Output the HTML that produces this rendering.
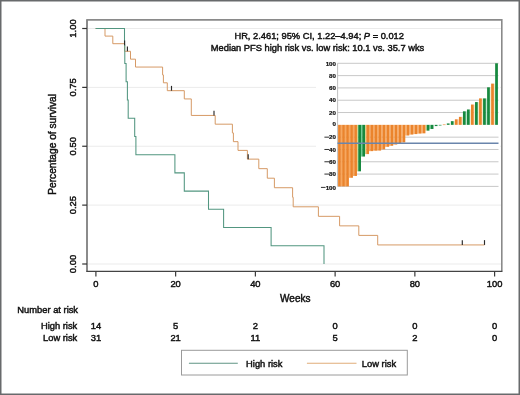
<!DOCTYPE html><html><head><meta charset="utf-8"><style>html,body{margin:0;padding:0;background:#fff;}svg{display:block;filter:blur(0.3px);}text{font-family:"Liberation Sans", sans-serif;} .t{fill:#111;stroke:#111;stroke-width:0.45px;} .ti{fill:#111;stroke:#111;stroke-width:0.2px;}</style></head><body>
<svg width="520" height="395" viewBox="0 0 520 395">
<rect x="0" y="0" width="520" height="395" fill="#fff"/>
<rect x="0.75" y="0.75" width="518.5" height="393.5" fill="none" stroke="#686a6c" stroke-width="1.5"/>
<line x1="88" y1="28.50" x2="501" y2="28.50" stroke="#ebebeb" stroke-width="1"/>
<line x1="88" y1="87.38" x2="501" y2="87.38" stroke="#ebebeb" stroke-width="1"/>
<line x1="88" y1="146.25" x2="501" y2="146.25" stroke="#ebebeb" stroke-width="1"/>
<line x1="88" y1="205.12" x2="501" y2="205.12" stroke="#ebebeb" stroke-width="1"/>
<line x1="88" y1="264.00" x2="501" y2="264.00" stroke="#ebebeb" stroke-width="1"/>
<rect x="316" y="56" width="184" height="138" fill="#fff"/>
<path d="M95.60 28.50 L105.00 28.50 L105.00 36.10 L112.80 36.10 L112.80 43.69 L124.55 43.69 L124.55 51.29 L130.50 51.29 L130.50 59.17 L135.50 59.17 L135.50 67.05 L162.60 67.05 L162.60 74.92 L163.40 74.92 L163.40 82.80 L167.30 82.80 L167.30 90.68 L184.30 90.68 L184.30 98.93 L191.30 98.93 L191.30 115.44 L215.20 115.44 L215.20 124.18 L232.40 124.18 L232.40 132.92 L233.40 132.92 L233.40 141.66 L238.00 141.66 L238.00 150.40 L247.40 150.40 L247.40 159.13 L258.80 159.13 L258.80 168.67 L267.30 168.67 L267.30 178.20 L274.40 178.20 L274.40 187.73 L292.60 187.73 L292.60 197.27 L293.20 197.27 L293.20 206.80 L318.40 206.80 L318.40 216.33 L339.60 216.33 L339.60 225.87 L358.80 225.87 L358.80 235.40 L377.70 235.40 L377.70 244.93 L484.50 244.93" fill="none" stroke="#d4955e" stroke-width="0.95"/>
<path d="M95.60 28.50 L124.50 28.50 L124.50 45.32 L124.80 45.32 L124.80 63.54 L126.10 63.54 L126.10 81.77 L127.40 81.77 L127.40 99.99 L128.20 99.99 L128.20 118.21 L134.70 118.21 L134.70 136.44 L135.90 136.44 L135.90 154.66 L174.90 154.66 L174.90 172.88 L184.30 172.88 L184.30 191.11 L208.50 191.11 L208.50 209.33 L223.60 209.33 L223.60 227.55 L271.10 227.55 L271.10 245.78 L324.00 245.78 L324.00 264.00" fill="none" stroke="#529680" stroke-width="1.05"/>
<line x1="124.60" y1="45.32" x2="124.60" y2="40.52" stroke="#2a2a2a" stroke-width="1.15"/>
<line x1="127.40" y1="51.29" x2="127.40" y2="46.49" stroke="#2a2a2a" stroke-width="1.15"/>
<line x1="171.50" y1="90.68" x2="171.50" y2="85.88" stroke="#2a2a2a" stroke-width="1.15"/>
<line x1="214.00" y1="115.44" x2="214.00" y2="110.64" stroke="#2a2a2a" stroke-width="1.15"/>
<line x1="248.20" y1="159.13" x2="248.20" y2="154.33" stroke="#2a2a2a" stroke-width="1.15"/>
<line x1="462.30" y1="244.93" x2="462.30" y2="240.13" stroke="#2a2a2a" stroke-width="1.15"/>
<line x1="484.50" y1="244.93" x2="484.50" y2="240.13" stroke="#2a2a2a" stroke-width="1.15"/>
<path d="M87.0 271.4 V19.9 H501.8 V271.4" fill="none" stroke="#8a8a8a" stroke-width="1.6"/>
<path d="M87.0 19.9 V271.4" fill="none" stroke="#828282" stroke-width="1.4"/>
<path d="M86.3 271.4 H502.4" fill="none" stroke="#444" stroke-width="1.4"/>
<line x1="82.2" y1="28.50" x2="87" y2="28.50" stroke="#333" stroke-width="1.2"/>
<text transform="translate(76.3 28.50) rotate(-90)" text-anchor="middle" font-size="9.4" class="t">1.00</text>
<line x1="82.2" y1="87.38" x2="87" y2="87.38" stroke="#333" stroke-width="1.2"/>
<text transform="translate(76.3 87.38) rotate(-90)" text-anchor="middle" font-size="9.4" class="t">0.75</text>
<line x1="82.2" y1="146.25" x2="87" y2="146.25" stroke="#333" stroke-width="1.2"/>
<text transform="translate(76.3 146.25) rotate(-90)" text-anchor="middle" font-size="9.4" class="t">0.50</text>
<line x1="82.2" y1="205.12" x2="87" y2="205.12" stroke="#333" stroke-width="1.2"/>
<text transform="translate(76.3 205.12) rotate(-90)" text-anchor="middle" font-size="9.4" class="t">0.25</text>
<line x1="82.2" y1="264.00" x2="87" y2="264.00" stroke="#333" stroke-width="1.2"/>
<text transform="translate(76.3 264.00) rotate(-90)" text-anchor="middle" font-size="9.4" class="t">0.00</text>
<line x1="95.90" y1="271.5" x2="95.90" y2="276.6" stroke="#3a3a3a" stroke-width="1.2"/>
<text x="95.90" y="287.3" text-anchor="middle" font-size="9.4" class="t">0</text>
<line x1="175.64" y1="271.5" x2="175.64" y2="276.6" stroke="#3a3a3a" stroke-width="1.2"/>
<text x="175.64" y="287.3" text-anchor="middle" font-size="9.4" class="t">20</text>
<line x1="255.38" y1="271.5" x2="255.38" y2="276.6" stroke="#3a3a3a" stroke-width="1.2"/>
<text x="255.38" y="287.3" text-anchor="middle" font-size="9.4" class="t">40</text>
<line x1="335.12" y1="271.5" x2="335.12" y2="276.6" stroke="#3a3a3a" stroke-width="1.2"/>
<text x="335.12" y="287.3" text-anchor="middle" font-size="9.4" class="t">60</text>
<line x1="414.86" y1="271.5" x2="414.86" y2="276.6" stroke="#3a3a3a" stroke-width="1.2"/>
<text x="414.86" y="287.3" text-anchor="middle" font-size="9.4" class="t">80</text>
<line x1="494.60" y1="271.5" x2="494.60" y2="276.6" stroke="#3a3a3a" stroke-width="1.2"/>
<text x="494.60" y="287.3" text-anchor="middle" font-size="9.4" class="t">100</text>
<text transform="translate(56.4 144.4) rotate(-90)" text-anchor="middle" font-size="10.2" class="t">Percentage of survival</text>
<text x="295.3" y="301.8" text-anchor="middle" font-size="10" class="t">Weeks</text>
<text x="319.2" y="39.4" text-anchor="middle" font-size="9.32" class="t">HR, 2.461; 95% CI, 1.22–4.94; <tspan font-style="italic">P</tspan> = 0.012</text>
<text x="317.5" y="51.4" text-anchor="middle" font-size="9.3" class="t">Median PFS high risk vs. low risk: 10.1 vs. 35.7 wks</text>
<line x1="337.5" y1="63.30" x2="498.5" y2="63.30" stroke="#c8c8c8" stroke-width="1"/>
<line x1="337.5" y1="75.61" x2="498.5" y2="75.61" stroke="#c8c8c8" stroke-width="1"/>
<line x1="337.5" y1="87.92" x2="498.5" y2="87.92" stroke="#c8c8c8" stroke-width="1"/>
<line x1="337.5" y1="100.23" x2="498.5" y2="100.23" stroke="#c8c8c8" stroke-width="1"/>
<line x1="337.5" y1="112.54" x2="498.5" y2="112.54" stroke="#c8c8c8" stroke-width="1"/>
<line x1="337.5" y1="137.16" x2="498.5" y2="137.16" stroke="#c8c8c8" stroke-width="1"/>
<line x1="337.5" y1="149.47" x2="498.5" y2="149.47" stroke="#c8c8c8" stroke-width="1"/>
<line x1="337.5" y1="161.78" x2="498.5" y2="161.78" stroke="#c8c8c8" stroke-width="1"/>
<line x1="337.5" y1="174.09" x2="498.5" y2="174.09" stroke="#c8c8c8" stroke-width="1"/>
<line x1="337.5" y1="186.40" x2="498.5" y2="186.40" stroke="#c8c8c8" stroke-width="1"/>
<line x1="337.6" y1="63.30" x2="337.6" y2="186.40" stroke="#c0c0c0" stroke-width="1"/>
<rect x="340.85" y="124.85" width="1.28" height="61.55" fill="#f7a85f"/>
<rect x="344.88" y="124.85" width="1.28" height="61.55" fill="#f7a85f"/>
<rect x="348.90" y="124.85" width="1.28" height="52.93" fill="#f7a85f"/>
<rect x="352.93" y="124.85" width="1.28" height="51.09" fill="#f7a85f"/>
<rect x="356.96" y="124.85" width="1.28" height="46.47" fill="#d9d48c"/>
<rect x="360.99" y="124.85" width="1.28" height="31.70" fill="#6fcf96"/>
<rect x="365.01" y="124.85" width="1.28" height="29.24" fill="#d9d48c"/>
<rect x="369.04" y="124.85" width="1.28" height="26.28" fill="#f7a85f"/>
<rect x="373.07" y="124.85" width="1.28" height="25.85" fill="#f7a85f"/>
<rect x="377.09" y="124.85" width="1.28" height="25.73" fill="#f7a85f"/>
<rect x="381.12" y="124.85" width="1.28" height="24.50" fill="#f7a85f"/>
<rect x="385.15" y="124.85" width="1.28" height="21.97" fill="#f7a85f"/>
<rect x="389.17" y="124.85" width="1.28" height="20.93" fill="#f7a85f"/>
<rect x="393.20" y="124.85" width="1.28" height="19.70" fill="#f7a85f"/>
<rect x="397.23" y="124.85" width="1.28" height="19.08" fill="#f7a85f"/>
<rect x="401.25" y="124.85" width="1.28" height="17.60" fill="#f7a85f"/>
<rect x="405.28" y="124.85" width="1.28" height="10.65" fill="#f7a85f"/>
<rect x="409.31" y="124.85" width="1.28" height="9.72" fill="#f7a85f"/>
<rect x="413.34" y="124.85" width="1.28" height="9.23" fill="#f7a85f"/>
<rect x="417.36" y="124.85" width="1.28" height="8.74" fill="#f7a85f"/>
<rect x="421.39" y="124.85" width="1.28" height="8.49" fill="#f7a85f"/>
<rect x="425.42" y="124.85" width="1.28" height="5.79" fill="#d9d48c"/>
<rect x="429.44" y="124.85" width="1.28" height="4.12" fill="#6fcf96"/>
<rect x="453.61" y="121.16" width="1.28" height="3.69" fill="#eeeccb"/>
<rect x="457.63" y="119.31" width="1.28" height="5.54" fill="#fbd9b8"/>
<rect x="461.66" y="116.85" width="1.28" height="8.00" fill="#eeeccb"/>
<rect x="465.69" y="111.31" width="1.28" height="13.54" fill="#bfe8cf"/>
<rect x="469.71" y="109.46" width="1.28" height="15.39" fill="#eeeccb"/>
<rect x="473.74" y="104.54" width="1.28" height="20.31" fill="#eeeccb"/>
<rect x="477.77" y="102.08" width="1.28" height="22.77" fill="#eeeccb"/>
<rect x="481.80" y="98.38" width="1.28" height="26.47" fill="#eeeccb"/>
<rect x="485.82" y="98.38" width="1.28" height="26.47" fill="#bfe8cf"/>
<rect x="489.85" y="87.30" width="1.28" height="37.55" fill="#eeeccb"/>
<rect x="493.88" y="83.61" width="1.28" height="41.24" fill="#eeeccb"/>
<rect x="338.10" y="124.85" width="2.75" height="61.55" fill="#eb842c"/>
<rect x="342.13" y="124.85" width="2.75" height="61.55" fill="#eb842c"/>
<rect x="346.15" y="124.85" width="2.75" height="61.55" fill="#eb842c"/>
<rect x="350.18" y="124.85" width="2.75" height="52.93" fill="#eb842c"/>
<rect x="354.21" y="124.85" width="2.75" height="51.09" fill="#eb842c"/>
<rect x="358.24" y="124.85" width="2.75" height="46.47" fill="#17893f"/>
<rect x="362.26" y="124.85" width="2.75" height="31.70" fill="#17893f"/>
<rect x="366.29" y="124.85" width="2.75" height="29.24" fill="#eb842c"/>
<rect x="370.32" y="124.85" width="2.75" height="26.28" fill="#eb842c"/>
<rect x="374.34" y="124.85" width="2.75" height="25.85" fill="#eb842c"/>
<rect x="378.37" y="124.85" width="2.75" height="25.73" fill="#eb842c"/>
<rect x="382.40" y="124.85" width="2.75" height="24.50" fill="#eb842c"/>
<rect x="386.42" y="124.85" width="2.75" height="21.97" fill="#eb842c"/>
<rect x="390.45" y="124.85" width="2.75" height="20.93" fill="#eb842c"/>
<rect x="394.48" y="124.85" width="2.75" height="19.70" fill="#eb842c"/>
<rect x="398.50" y="124.85" width="2.75" height="19.08" fill="#eb842c"/>
<rect x="402.53" y="124.85" width="2.75" height="17.60" fill="#eb842c"/>
<rect x="406.56" y="124.85" width="2.75" height="10.65" fill="#eb842c"/>
<rect x="410.59" y="124.85" width="2.75" height="9.72" fill="#eb842c"/>
<rect x="414.61" y="124.85" width="2.75" height="9.23" fill="#eb842c"/>
<rect x="418.64" y="124.85" width="2.75" height="8.74" fill="#eb842c"/>
<rect x="422.67" y="124.85" width="2.75" height="8.49" fill="#eb842c"/>
<rect x="426.69" y="124.85" width="2.75" height="5.79" fill="#17893f"/>
<rect x="430.72" y="124.85" width="2.75" height="4.12" fill="#17893f"/>
<rect x="434.75" y="124.85" width="2.75" height="1.23" fill="#17893f"/>
<rect x="438.78" y="124.85" width="2.75" height="0.62" fill="#17893f"/>
<rect x="442.80" y="124.48" width="2.75" height="0.60" fill="#eb842c"/>
<rect x="446.83" y="123.43" width="2.75" height="1.42" fill="#17893f"/>
<rect x="450.86" y="121.16" width="2.75" height="3.69" fill="#17893f"/>
<rect x="454.88" y="119.31" width="2.75" height="5.54" fill="#eb842c"/>
<rect x="458.91" y="116.85" width="2.75" height="8.00" fill="#eb842c"/>
<rect x="462.94" y="111.31" width="2.75" height="13.54" fill="#17893f"/>
<rect x="466.96" y="109.46" width="2.75" height="15.39" fill="#17893f"/>
<rect x="470.99" y="104.54" width="2.75" height="20.31" fill="#eb842c"/>
<rect x="475.02" y="102.08" width="2.75" height="22.77" fill="#17893f"/>
<rect x="479.05" y="98.38" width="2.75" height="26.47" fill="#eb842c"/>
<rect x="483.07" y="98.38" width="2.75" height="26.47" fill="#17893f"/>
<rect x="487.10" y="87.30" width="2.75" height="37.55" fill="#17893f"/>
<rect x="491.13" y="83.61" width="2.75" height="41.24" fill="#eb842c"/>
<rect x="495.15" y="63.30" width="2.75" height="61.55" fill="#17893f"/>
<line x1="337.5" y1="143.31" x2="498.5" y2="143.31" stroke="#6a85ac" stroke-width="1.5"/>
<text x="336" y="66.00" text-anchor="end" font-size="6.2" font-weight="bold" class="ti">100</text>
<text x="336" y="77.81" text-anchor="end" font-size="6.2" font-weight="bold" class="ti">80</text>
<text x="336" y="90.12" text-anchor="end" font-size="6.2" font-weight="bold" class="ti">60</text>
<text x="336" y="102.43" text-anchor="end" font-size="6.2" font-weight="bold" class="ti">40</text>
<text x="336" y="114.74" text-anchor="end" font-size="6.2" font-weight="bold" class="ti">20</text>
<text x="336" y="126.15" text-anchor="end" font-size="6.2" font-weight="bold" class="ti">0</text>
<text x="336" y="139.36" text-anchor="end" font-size="6.2" font-weight="bold" class="ti">20</text>
<line x1="324.41" y1="137.16" x2="329.01" y2="137.16" stroke="#1a1a1a" stroke-width="0.9"/>
<text x="336" y="151.67" text-anchor="end" font-size="6.2" font-weight="bold" class="ti">40</text>
<line x1="324.41" y1="149.47" x2="329.01" y2="149.47" stroke="#1a1a1a" stroke-width="0.9"/>
<text x="336" y="163.98" text-anchor="end" font-size="6.2" font-weight="bold" class="ti">60</text>
<line x1="324.41" y1="161.78" x2="329.01" y2="161.78" stroke="#1a1a1a" stroke-width="0.9"/>
<text x="336" y="176.29" text-anchor="end" font-size="6.2" font-weight="bold" class="ti">80</text>
<line x1="324.41" y1="174.09" x2="329.01" y2="174.09" stroke="#1a1a1a" stroke-width="0.9"/>
<text x="336" y="189.60" text-anchor="end" font-size="6.2" font-weight="bold" class="ti">100</text>
<line x1="320.96" y1="187.40" x2="325.56" y2="187.40" stroke="#1a1a1a" stroke-width="0.9"/>
<text x="17.3" y="312.9" font-size="9.35" class="t">Number at risk</text>
<text x="77.3" y="329.2" text-anchor="end" font-size="9.35" class="t">High risk</text>
<text x="77.3" y="340.8" text-anchor="end" font-size="9.35" class="t">Low risk</text>
<text x="95.90" y="329.2" text-anchor="middle" font-size="9.4" class="t">14</text>
<text x="95.90" y="340.8" text-anchor="middle" font-size="9.4" class="t">31</text>
<text x="175.64" y="329.2" text-anchor="middle" font-size="9.4" class="t">5</text>
<text x="175.64" y="340.8" text-anchor="middle" font-size="9.4" class="t">21</text>
<text x="255.38" y="329.2" text-anchor="middle" font-size="9.4" class="t">2</text>
<text x="255.38" y="340.8" text-anchor="middle" font-size="9.4" class="t">11</text>
<text x="335.12" y="329.2" text-anchor="middle" font-size="9.4" class="t">0</text>
<text x="335.12" y="340.8" text-anchor="middle" font-size="9.4" class="t">5</text>
<text x="414.86" y="329.2" text-anchor="middle" font-size="9.4" class="t">0</text>
<text x="414.86" y="340.8" text-anchor="middle" font-size="9.4" class="t">2</text>
<text x="494.60" y="329.2" text-anchor="middle" font-size="9.4" class="t">0</text>
<text x="494.60" y="340.8" text-anchor="middle" font-size="9.4" class="t">0</text>
<rect x="181.5" y="350.3" width="225.8" height="24.7" fill="#fff" stroke="#9a9a9a" stroke-width="1"/>
<line x1="188.9" y1="363.2" x2="237.8" y2="363.2" stroke="#5f9585" stroke-width="1.1"/>
<text x="246.1" y="367.4" font-size="9.35" class="t">High risk</text>
<line x1="306.9" y1="363.2" x2="356.5" y2="363.2" stroke="#e0ac78" stroke-width="1.1"/>
<text x="361.8" y="367.4" font-size="9.35" class="t">Low risk</text>
</svg></body></html>
